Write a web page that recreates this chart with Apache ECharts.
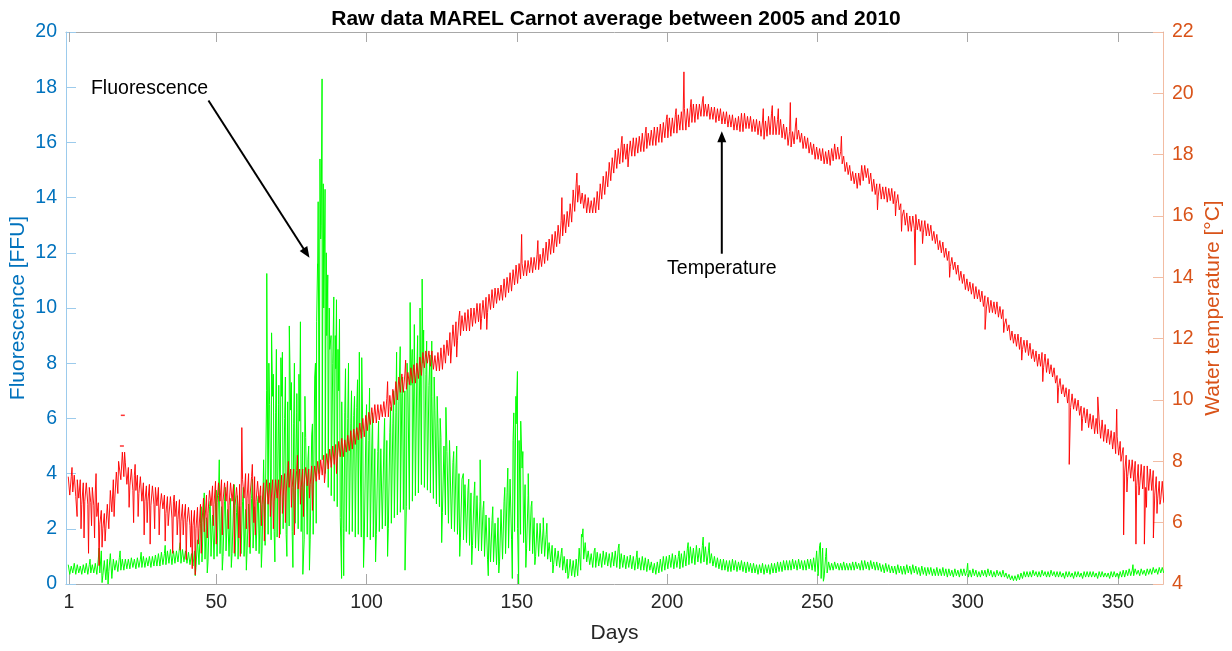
<!DOCTYPE html>
<html>
<head>
<meta charset="utf-8">
<title>Raw data MAREL Carnot</title>
<script src="https://cdn.jsdelivr.net/npm/echarts@6/dist/echarts.min.js"></script>
<style>
  html, body { margin: 0; padding: 0; background: #ffffff; }
  #chart { width: 1232px; height: 651px; }
</style>
</head>
<body>
<div id="chart"></div>
<script>
// ---- data -------------------------------------------------------------
const dayTicks = [1, 50, 100, 150, 200, 250, 300, 350];

// Water temperature [°C], centre of the daily band, days 1..365
const tempMid = [
  7.2,7.25,7.2,7.1,7.0,7.0,6.95,6.9,6.85,6.6,
  6.3,6.1,6.05,6.2,6.7,7.1,7.3,7.7,7.9,7.6,
  7.5,7.4,7.3,7.25,7.1,7.0,6.95,6.9,6.9,6.85,
  6.8,6.7,6.6,6.55,6.5,6.45,6.4,6.4,6.35,6.3,
  6.2,6.15,6.1,6.15,6.3,6.45,6.6,6.8,6.9,7.0,
  7.0,7.05,7.0,6.95,7.0,6.9,6.85,6.9,7.1,7.2,
  7.25,7.2,7.1,7.0,6.9,6.95,7.0,7.0,7.05,7.1,
  7.1,7.2,7.3,7.4,7.45,7.4,7.4,7.45,7.5,7.5,
  7.5,7.55,7.6,7.7,7.8,7.9,8.0,8.1,8.2,8.3,
  8.4,8.45,8.5,8.6,8.7,8.8,8.9,9.0,9.1,9.25,
  9.4,9.5,9.55,9.6,9.65,9.7,9.75,9.9,10.1,10.3,
  10.5,10.55,10.6,10.7,10.8,10.85,10.95,11.1,11.3,11.4,
  11.35,11.3,11.2,11.25,11.35,11.5,11.7,11.9,12.1,12.25,
  12.4,12.5,12.55,12.6,12.7,12.75,12.85,12.9,12.95,13.1,
  13.2,13.3,13.4,13.45,13.5,13.65,13.75,13.85,14.0,14.1,
  14.2,14.25,14.3,14.35,14.4,14.45,14.5,14.55,14.7,14.85,
  15.0,15.1,15.25,15.4,15.6,15.75,15.9,16.1,16.5,16.75,
  16.7,16.5,16.4,16.35,16.3,16.35,16.5,16.8,17.0,17.2,
  17.45,17.65,17.85,17.95,18.05,18.1,18.15,18.2,18.25,18.3,
  18.35,18.4,18.45,18.5,18.55,18.6,18.65,18.7,18.8,18.85,
  18.9,18.95,19.0,19.05,19.1,19.15,19.2,19.3,19.35,19.4,
  19.45,19.5,19.45,19.4,19.35,19.3,19.3,19.25,19.2,19.15,
  19.1,19.05,19.0,19.0,19.05,19.1,19.05,19.0,18.95,18.9,
  18.85,18.8,18.85,18.95,19.0,18.95,18.9,18.85,18.75,18.6,
  18.5,18.55,18.75,18.6,18.45,18.4,18.3,18.2,18.1,18.05,
  18.0,17.95,17.9,17.9,18.0,18.1,18.05,17.9,17.7,17.55,
  17.4,17.25,17.15,17.2,17.4,17.45,17.3,17.1,16.95,16.85,
  16.8,16.75,16.7,16.7,16.65,16.6,16.45,16.2,15.95,15.8,
  15.75,15.8,15.8,15.7,15.65,15.6,15.55,15.45,15.3,15.15,
  15.0,14.9,14.75,14.6,14.45,14.3,14.15,14.0,13.85,13.75,
  13.65,13.55,13.5,13.4,13.3,13.2,13.1,13.05,13.0,12.95,
  12.85,12.7,12.45,12.2,12.05,11.95,11.9,11.85,11.75,11.7,
  11.6,11.45,11.35,11.3,11.3,11.2,11.1,10.95,10.8,10.6,
  10.45,10.3,10.15,10.05,9.95,9.85,9.75,9.6,9.5,9.4,
  9.3,9.2,9.15,9.05,9.0,8.9,8.8,8.7,8.6,8.5,
  8.3,8.05,7.85,7.75,7.7,7.6,7.55,7.5,7.5,7.45,
  7.4,7.3,7.15,7.05,7.0
];

// half-width of the temperature band for each day, days 1..365
const tempSpread = [
  0.3,0.25,0.35,0.3,0.4,0.3,0.35,0.25,0.3,0.4,
  0.35,0.3,0.25,0.4,0.35,0.3,0.35,0.3,0.4,0.35,
  0.3,0.35,0.25,0.3,0.4,0.3,0.25,0.35,0.3,0.3,
  0.35,0.25,0.3,0.3,0.35,0.25,0.3,0.35,0.25,0.3,
  0.3,0.25,0.3,0.35,0.3,0.35,0.3,0.25,0.3,0.35,
  0.3,0.35,0.3,0.4,0.3,0.35,0.3,0.35,0.3,0.4,
  0.35,0.3,0.4,0.35,0.3,0.35,0.4,0.3,0.35,0.3,
  0.3,0.35,0.3,0.25,0.3,0.35,0.3,0.3,0.25,0.3,
  0.25,0.3,0.25,0.3,0.25,0.3,0.25,0.3,0.3,0.25,
  0.25,0.3,0.2,0.25,0.3,0.25,0.2,0.25,0.3,0.25,
  0.2,0.25,0.3,0.25,0.2,0.25,0.3,0.25,0.25,0.3,
  0.25,0.3,0.25,0.2,0.25,0.3,0.25,0.3,0.25,0.2,
  0.25,0.3,0.25,0.3,0.35,0.3,0.25,0.3,0.35,0.3,
  0.3,0.25,0.3,0.35,0.3,0.25,0.3,0.25,0.3,0.25,
  0.25,0.3,0.25,0.2,0.25,0.3,0.25,0.3,0.25,0.3,
  0.25,0.2,0.25,0.2,0.25,0.2,0.25,0.2,0.25,0.3,
  0.25,0.3,0.25,0.3,0.25,0.3,0.25,0.3,0.35,0.3,
  0.3,0.25,0.3,0.25,0.2,0.25,0.3,0.25,0.3,0.25,
  0.3,0.25,0.3,0.25,0.3,0.25,0.2,0.25,0.3,0.25,
  0.25,0.3,0.25,0.2,0.25,0.3,0.25,0.3,0.25,0.3,
  0.3,0.25,0.3,0.25,0.3,0.35,0.3,0.25,0.3,0.25,
  0.2,0.25,0.2,0.25,0.2,0.25,0.2,0.25,0.2,0.25,
  0.2,0.25,0.2,0.25,0.3,0.25,0.2,0.25,0.2,0.25,
  0.25,0.3,0.25,0.3,0.35,0.3,0.25,0.3,0.25,0.3,
  0.25,0.2,0.25,0.2,0.25,0.2,0.25,0.2,0.25,0.2,
  0.2,0.25,0.2,0.25,0.2,0.25,0.2,0.2,0.25,0.2,
  0.25,0.2,0.25,0.2,0.25,0.2,0.25,0.3,0.25,0.2,
  0.25,0.2,0.25,0.2,0.25,0.2,0.25,0.2,0.25,0.3,
  0.25,0.2,0.25,0.2,0.2,0.25,0.2,0.25,0.2,0.25,
  0.2,0.25,0.2,0.25,0.2,0.2,0.25,0.2,0.25,0.2,
  0.2,0.25,0.2,0.2,0.25,0.2,0.25,0.2,0.2,0.25,
  0.2,0.25,0.2,0.25,0.2,0.2,0.25,0.2,0.2,0.25,
  0.25,0.2,0.25,0.2,0.25,0.3,0.25,0.2,0.25,0.2,
  0.25,0.2,0.25,0.3,0.25,0.2,0.25,0.2,0.25,0.3,
  0.25,0.3,0.25,0.3,0.35,0.3,0.25,0.3,0.35,0.3,
  0.35,0.4,0.35,0.3,0.35,0.4,0.35,0.4,0.35,0.4,
  0.35,0.4,0.35,0.3,0.35
];

// isolated temperature excursions [day, °C]
const tempPeaks = [
  [2,7.8],[3.7,6.2],[5,5.8],[6,5.5],[7.5,5.0],[8.5,5.9],[9.5,5.5],[10,7.6],[11,4.6],[12,5.2],
  [13,5.4],[14.5,5.8],[16,6.2],[17.5,8.0],[19.5,8.3],[20,8.0],[21,6.5],
  [22.5,6.0],[23,7.9],[24,6.2],[26,5.6],[27,6.0],[28,5.3],[29.5,5.8],[31,5.6],[33,5.4],[34,5.9],
  [35.5,5.0],[36,6.9],[37,5.6],[38,5.1],[39,5.6],[40,4.8],[41.5,5.2],[42,4.5],[43,4.3],[44,5.3],
  [45,5.0],[46,5.7],[47,5.5],[49,5.9],[50,5.3],[52,5.6],[54,5.8],[56,5.0],[57.5,5.5],[58,4.9],
  [58.5,9.1],[60,5.8],[61,5.2],[62,7.9],[62.5,6.0],[63,5.6],[65,5.9],[66,5.4],[68,6.2],[69,5.8],
  [71,5.5],[72,6.3],[73,6.0],[74,8.0],[75,6.5],[76,5.6],[77,8.2],[78,6.6],[79,6.2],[81,6.8],
  [82,6.4],[86,7.3],[90,7.6],[107,10.6],[113,11.3],[128,11.2],[130,11.4],[131,12.9],[138,12.3],
  [140,12.3],[151.6,15.4],[157,15.2],[165,16.6],[170,17.4],[185,18.6],[187,17.6],[193,18.9],
  [200,19.3],[203,19.5],[205.6,20.7],[208,19.8],[212,19.9],[232,19.5],[235,19.6],[237,19.5],
  [241,19.7],[243,19.2],[258,18.6],[270,16.2],[276,16.0],[278,15.5],[282.5,14.4],[285,15.1],
  [294,14.0],[305.8,12.3],[312,12.2],[318,11.3],[325,10.6],[330,9.9],[333.8,7.9],[338,9.0],
  [343.3,10.1],[349.6,9.7],[351,8.0],[351.9,5.6],[353,7.0],[356,5.3],[357,6.9],[358.8,5.3],
  [359.5,6.5],[361.8,5.5],[363,6.3],[364,6.6]
];

// detached temperature readings [day, °C]
const tempStray = [[18.9, 9.5], [18.6, 8.5]];

// Fluorescence [FFU], lower and upper edge of the daily band, days 1..365
const fluoLow = [
  0.35,0.4,0.35,0.4,0.35,0.4,0.35,0.4,0.4,0.35,
  0.4,0.3,0.15,0.45,0.2,0.5,0.45,0.5,0.5,0.55,
  0.55,0.6,0.55,0.6,0.6,0.6,0.65,0.6,0.65,0.65,
  0.65,0.7,0.7,0.75,0.7,0.75,0.8,0.75,0.8,0.75,
  0.7,0.65,0.6,0.7,0.8,0.9,0.8,1.0,0.9,1.0,
  1.1,1.0,1.2,1.0,1.1,1.0,0.9,1.1,1.0,1.2,
  1.1,1.3,1.2,1.1,1.3,1.4,1.8,1.6,1.9,1.7,
  1.8,2.0,1.8,2.1,1.9,2.2,2.0,1.9,1.6,1.8,
  1.6,1.8,2.2,4.0,4.5,4.0,3.5,3.2,3.0,2.8,
  2.4,2.0,1.9,1.8,1.9,1.7,1.8,1.7,1.6,1.7,
  1.6,1.7,1.8,1.9,2.0,2.1,2.0,2.2,2.4,2.5,
  2.6,2.7,2.8,2.7,3.0,3.2,3.3,3.6,3.5,3.4,
  3.3,3.1,2.9,2.8,2.6,2.5,2.2,2.0,1.9,1.8,
  1.7,1.6,1.5,1.4,1.4,1.3,1.2,1.2,1.0,0.9,
  0.8,0.8,0.7,0.8,0.9,1.1,1.3,1.6,1.9,2.0,
  1.8,1.5,1.3,1.2,1.1,1.0,1.0,1.1,1.0,0.9,
  0.8,0.7,0.65,0.6,0.5,0.4,0.3,0.3,0.25,0.3,
  0.5,0.9,0.8,0.7,0.6,0.6,0.65,0.6,0.7,0.65,
  0.6,0.65,0.6,0.55,0.6,0.55,0.6,0.55,0.5,0.55,
  0.5,0.5,0.45,0.5,0.4,0.35,0.4,0.45,0.5,0.55,
  0.6,0.55,0.6,0.55,0.6,0.65,0.7,0.75,0.7,0.8,
  0.75,0.8,0.7,0.75,0.65,0.6,0.55,0.5,0.5,0.45,
  0.45,0.5,0.45,0.5,0.45,0.4,0.45,0.4,0.4,0.35,
  0.4,0.35,0.4,0.35,0.4,0.4,0.45,0.45,0.5,0.5,
  0.5,0.55,0.5,0.55,0.5,0.5,0.55,0.5,0.45,0.3,
  0.2,0.25,0.4,0.5,0.5,0.55,0.5,0.5,0.5,0.5,
  0.5,0.5,0.55,0.5,0.5,0.55,0.5,0.55,0.5,0.5,
  0.45,0.4,0.45,0.4,0.4,0.35,0.4,0.35,0.35,0.4,
  0.35,0.4,0.35,0.3,0.35,0.3,0.35,0.3,0.3,0.3,
  0.3,0.3,0.25,0.3,0.25,0.3,0.25,0.3,0.3,0.25,
  0.25,0.3,0.25,0.25,0.3,0.25,0.3,0.25,0.25,0.3,
  0.25,0.25,0.2,0.15,0.12,0.12,0.15,0.2,0.25,0.25,
  0.25,0.3,0.25,0.25,0.3,0.25,0.25,0.3,0.25,0.25,
  0.25,0.2,0.25,0.25,0.2,0.25,0.25,0.2,0.25,0.25,
  0.25,0.25,0.2,0.25,0.25,0.25,0.2,0.25,0.25,0.2,
  0.25,0.25,0.3,0.3,0.3,0.35,0.3,0.35,0.3,0.35,
  0.35,0.4,0.35,0.4,0.4
];

const fluoHigh = [
  0.7,0.65,0.75,0.7,0.65,0.7,0.75,0.7,0.7,0.75,
  0.9,1.2,0.85,0.9,1.1,0.9,0.85,0.95,0.9,0.9,
  0.9,0.95,0.9,0.95,0.9,1.0,0.95,1.0,1.0,1.05,
  1.1,1.15,1.1,1.2,1.25,1.2,1.2,1.3,1.25,1.2,
  1.15,1.1,1.2,1.6,2.2,2.6,2.4,2.8,2.5,2.9,
  3.2,2.8,3.0,2.7,3.1,2.9,2.6,2.8,3.0,2.7,
  2.9,3.1,2.8,3.0,3.2,4.5,7.0,6.5,6.8,6.2,
  6.5,6.8,6.0,6.6,6.3,5.8,6.2,5.9,5.5,5.3,
  5.0,5.4,7.5,11.5,12.5,10.0,9.0,8.5,8.0,7.8,
  7.0,6.6,6.2,6.0,5.8,6.1,6.4,5.8,5.5,5.4,
  5.2,5.0,4.9,4.8,4.9,5.0,5.2,5.5,5.8,6.2,
  6.6,6.9,7.0,7.3,7.2,7.5,7.8,8.2,8.0,7.6,
  7.2,6.8,6.3,5.8,5.3,5.0,4.8,4.6,4.4,4.2,
  4.0,3.8,3.6,3.4,3.3,3.2,3.2,3.0,2.7,2.5,
  2.4,2.3,2.2,2.4,2.7,3.0,3.3,3.8,5.2,5.8,
  5.2,4.2,3.6,3.2,2.8,2.4,2.2,2.2,2.0,1.8,
  1.5,1.4,1.3,1.2,1.1,1.0,0.9,0.9,0.85,0.9,
  1.3,1.7,1.5,1.2,1.1,1.2,1.15,1.1,1.2,1.15,
  1.1,1.15,1.2,1.3,1.1,1.05,1.0,1.05,1.0,0.95,
  0.95,1.0,0.95,0.9,0.8,0.75,0.8,0.9,1.0,1.0,
  1.05,1.1,1.05,1.0,1.1,1.2,1.3,1.35,1.3,1.4,
  1.3,1.4,1.35,1.2,1.1,1.0,0.95,0.9,0.9,0.85,
  0.85,0.9,0.85,0.8,0.85,0.8,0.8,0.75,0.75,0.7,
  0.7,0.75,0.7,0.7,0.75,0.75,0.8,0.8,0.85,0.85,
  0.85,0.9,0.85,0.9,0.85,0.85,0.9,0.9,0.95,1.2,
  1.4,1.3,1.0,0.8,0.75,0.8,0.75,0.75,0.8,0.75,
  0.75,0.8,0.8,0.75,0.85,0.85,0.8,0.85,0.8,0.8,
  0.75,0.7,0.75,0.7,0.65,0.65,0.7,0.65,0.65,0.7,
  0.65,0.7,0.65,0.6,0.65,0.6,0.6,0.6,0.55,0.6,
  0.55,0.6,0.55,0.55,0.5,0.55,0.5,0.55,0.55,0.5,
  0.5,0.55,0.5,0.45,0.5,0.5,0.55,0.5,0.45,0.5,
  0.45,0.5,0.4,0.35,0.3,0.3,0.35,0.4,0.45,0.45,
  0.45,0.5,0.45,0.45,0.5,0.45,0.45,0.5,0.45,0.45,
  0.45,0.4,0.45,0.45,0.4,0.45,0.45,0.4,0.45,0.45,
  0.45,0.45,0.4,0.45,0.45,0.4,0.4,0.45,0.45,0.4,
  0.45,0.5,0.5,0.55,0.5,0.55,0.5,0.55,0.5,0.55,
  0.55,0.6,0.55,0.6,0.6
];

// isolated fluorescence spikes [day, FFU]
const fluoPeaks = [
  [8,0.9],[11,1.3],[12,0.05],[14,0.0],[15,1.1],[18,1.2],[25,1.15],[33,1.4],[38,1.5],[43,0.3],
  [45,2.8],[46,3.3],[47,0.4],[48,3.0],[50,3.4],[51,4.5],[52,0.5],[53,3.5],[55,0.6],[56,3.6],
  [57,3.2],[59,3.5],[60,0.5],[62,3.8],[64,3.2],[65,0.6],[66.5,4.6],[66.8,11.25],[67.5,8.0],
  [68.4,9.1],[69,7.6],[69.5,0.8],[70,8.5],[70.8,7.2],[71.5,8.2],[72,8.4],[73,7.5],[73.5,1.0],
  [74.3,9.35],[75,7.3],[75.5,0.6],[76,8.0],[76.8,6.9],[77.5,7.6],[78,9.5],[78.8,0.35],[79.5,6.8],
  [80.5,4.5],[81,0.5],[82,5.8],[83,8.0],[83.4,9.5],[83.7,11.6],[83.9,13.85],[84.5,15.4],
  [84.9,13.0],[85.2,18.3],[85.6,14.5],[86.2,14.3],[86.6,12.0],[87.1,11.2],[87.6,10.0],[88.2,9.0],
  [89.1,10.4],[89.6,9.0],[90,10.3],[90.5,8.5],[91,9.6],[91.7,0.2],[92.4,0.3],[93,7.8],[94,8.0],
  [95,7.0],[96,6.8],[97,7.4],[97.6,8.4],[98.4,8.2],[99,0.6],[100,6.5],[101,7.1],[102,6.2],
  [103,0.8],[104,5.9],[106,6.0],[107,1.0],[108,6.4],[109,7.0],[110,8.4],[111.2,8.6],[112,7.5],
  [112.8,0.5],[113.5,8.0],[114.5,10.2],[115.2,8.5],[115.9,9.4],[117,9.0],[117.8,10.0],
  [118.5,11.05],[119,9.2],[120,8.8],[121.1,8.3],[121.7,8.8],[122.5,7.5],[123.5,6.8],[124.5,6.0],
  [125,1.5],[126.4,6.4],[127.6,5.2],[129,4.8],[130,5.0],[131,1.0],[132.2,4.0],[134,3.8],
  [135,0.7],[136,3.7],[137.8,4.5],[139,3.0],[140.5,0.3],[142,2.8],[144,0.4],[146,3.5],[147,4.2],
  [148.5,0.2],[149,6.2],[149.7,6.8],[150.2,7.7],[150.6,0.0],[151.3,5.9],[152,4.8],[153,0.6],
  [153.8,4.0],[155,3.0],[156,0.7],[158.8,2.4],[160,2.2],[162,0.4],[165,1.3],[167,0.2],
  [171.5,1.8],[172,2.0],[176,1.3],[184,1.45],[190,1.2],[204,1.2],[207,1.5],[212,1.7],[214,1.5],
  [251,1.5],[252,0.1],[253,1.3],[300,0.75],[355,0.7]
];

// ---- build the traces: each day contributes its upper and lower edge -----
function buildTrace(low, high, peaks) {
  const pts = [];
  for (let i = 0; i < low.length; i++) {
    const d = i + 1;
    pts.push([d - 0.25, high[i]]);
    pts.push([d + 0.25, low[i]]);
  }
  peaks.forEach(p => pts.push([p[0], p[1]]));
  pts.sort((a, b) => a[0] - b[0]);
  return pts;
}

const tempLow = tempMid.map((v, i) => v - tempSpread[i]);
const tempHigh = tempMid.map((v, i) => v + tempSpread[i]);
const tempTrace = buildTrace(tempLow, tempHigh, tempPeaks);
const fluoTrace = buildTrace(fluoLow, fluoHigh, fluoPeaks);

// ---- chart --------------------------------------------------------------
const FONT = '"Liberation Sans", Arial, Helvetica, sans-serif';
const BLUE = '#0072BD';
const ORANGE = '#D95319';
const INK = '#262626';
const FRAME = '#a8a8a8';

const chart = echarts.init(document.getElementById('chart'), null, { renderer: 'canvas' });

const option = {
  animation: false,
  backgroundColor: '#ffffff',
  title: {
    text: 'Raw data MAREL Carnot average between 2005 and 2010',
    left: 'center',
    top: 4,
    textStyle: { fontFamily: FONT, fontSize: 21, fontWeight: 'bold', color: '#000000' }
  },
  grid: { left: 66, right: 69, top: 32, bottom: 67, containLabel: false, outerBoundsMode: 'none' },
  xAxis: [
    {
      type: 'value', min: 0, max: 365, position: 'bottom',
      name: 'Days', nameLocation: 'middle', nameGap: 39, nameMoveOverlap: false,
      nameTextStyle: { fontFamily: FONT, fontSize: 21, color: INK },
      axisLine: { show: true, onZero: false, lineStyle: { color: FRAME, width: 1 } },
      axisTick: { show: true, inside: true, length: 10, customValues: dayTicks, lineStyle: { color: FRAME } },
      axisLabel: { customValues: dayTicks, margin: 9, fontFamily: FONT, fontSize: 19.5, color: INK },
      splitLine: { show: false }
    },
    {
      type: 'value', min: 0, max: 365, position: 'top',
      axisLine: { show: true, onZero: false, lineStyle: { color: FRAME, width: 1 } },
      axisTick: { show: true, inside: true, length: 10, customValues: dayTicks, lineStyle: { color: FRAME } },
      axisLabel: { show: false },
      splitLine: { show: false }
    }
  ],
  yAxis: [
    {
      type: 'value', min: 0, max: 20, interval: 2, position: 'left',
      name: 'Fluorescence [FFU]', nameLocation: 'middle', nameGap: 37, nameRotate: 90,
      nameMoveOverlap: false,
      nameTextStyle: { fontFamily: FONT, fontSize: 21, color: BLUE },
      axisLine: { show: true, onZero: false, lineStyle: { color: '#9ccbec', width: 1 } },
      axisTick: { show: true, inside: true, length: 10, lineStyle: { color: '#9ccbec' } },
      axisLabel: { margin: 9, fontFamily: FONT, fontSize: 19.5, color: BLUE },
      splitLine: { show: false }
    },
    {
      type: 'value', min: 4, max: 22, interval: 2, position: 'right',
      name: 'Water temperature [°C]', nameLocation: 'middle', nameGap: 40, nameRotate: 90,
      nameMoveOverlap: false,
      nameTextStyle: { fontFamily: FONT, fontSize: 21, color: ORANGE },
      axisLine: { show: true, onZero: false, lineStyle: { color: '#f2bca3', width: 1 } },
      axisTick: { show: true, inside: true, length: 10, lineStyle: { color: '#f2bca3' } },
      axisLabel: { margin: 9, fontFamily: FONT, fontSize: 19.5, color: ORANGE },
      splitLine: { show: false }
    }
  ],
  series: [
    {
      name: 'Fluorescence', type: 'line', xAxisIndex: 0, yAxisIndex: 0,
      data: fluoTrace, showSymbol: false, symbol: 'none', silent: true,
      lineStyle: { color: '#00ff00', width: 1 }, z: 2
    },
    {
      name: 'Temperature', type: 'line', xAxisIndex: 0, yAxisIndex: 1,
      data: tempTrace, showSymbol: false, symbol: 'none', silent: true,
      lineStyle: { color: '#ff0000', width: 1, opacity: 0.92 }, z: 3
    },
    {
      name: 'Temperature detached', type: 'scatter', xAxisIndex: 0, yAxisIndex: 1,
      data: tempStray, symbol: 'rect', symbolSize: [4, 1.5], silent: true,
      itemStyle: { color: '#ff0000' }, z: 3
    }
  ]
};

chart.setOption(option);

// ---- annotations, placed in data coordinates ----------------------------
function px(axis, day, v) {
  return chart.convertToPixel({ xAxisIndex: 0, yAxisIndex: axis }, [day, v]);
}

function arrow(p0, p1) {
  const dx = p1[0] - p0[0], dy = p1[1] - p0[1];
  const len = Math.sqrt(dx * dx + dy * dy);
  const ux = dx / len, uy = dy / len;
  const nx = -uy, ny = ux;
  const L = 11, W = 4.5;
  const bx = p1[0] - ux * L, by = p1[1] - uy * L;
  return [
    { type: 'line', silent: true, z: 20,
      shape: { x1: p0[0], y1: p0[1], x2: bx + ux * 2, y2: by + uy * 2 },
      style: { stroke: '#000000', lineWidth: 2 } },
    { type: 'polygon', silent: true, z: 20,
      shape: { points: [[p1[0], p1[1]], [bx + nx * W, by + ny * W], [bx - nx * W, by - ny * W]] },
      style: { fill: '#000000' } }
  ];
}

const fluoText = px(0, 8.3, 17.95);
const tempText = px(1, 218.2, 14.3);

chart.setOption({
  graphic: [
    { type: 'text', silent: true, z: 20, x: fluoText[0], y: fluoText[1],
      style: { text: 'Fluorescence', fontFamily: FONT, fontSize: 19.5, fill: '#000000',
               align: 'left', verticalAlign: 'middle' } },
    ...arrow(px(0, 47.4, 17.52), px(0, 81.0, 11.82)),
    { type: 'text', silent: true, z: 20, x: tempText[0], y: tempText[1],
      style: { text: 'Temperature', fontFamily: FONT, fontSize: 19.5, fill: '#000000',
               align: 'center', verticalAlign: 'middle' } },
    ...arrow(px(1, 218.2, 14.77), px(1, 218.2, 18.76))
  ]
});
</script>
</body>
</html>
